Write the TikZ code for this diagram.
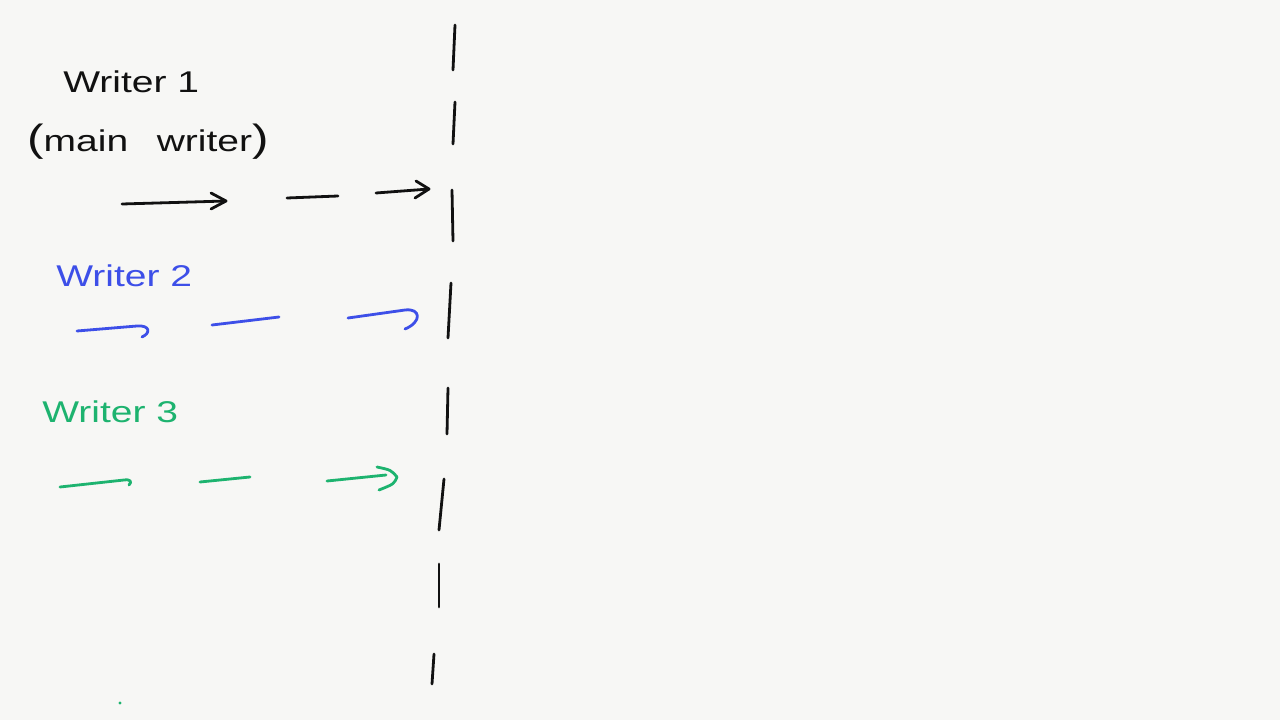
\documentclass[tikz,border=0pt]{standalone}
\usepackage{fontspec}
\setmainfont{Liberation Sans}
\definecolor{paper}{HTML}{F7F7F5}
\definecolor{ink}{HTML}{111111}
\definecolor{inkblue}{HTML}{3D4FE8}
\definecolor{inkgreen}{HTML}{1DB36F}
\tikzset{
  pen/.style={line width=2.8pt, line cap=round, line join=round},
  hand/.style={font=\fontsize{30}{36}\selectfont, inner sep=0pt, anchor=west, xscale=1.3, transform shape},
}
\newcommand{\bigparen}[1]{{\fontsize{38}{38}\selectfont #1}}
\begin{document}
\begin{tikzpicture}[x=1pt,y=-1pt]
\fill[paper] (0,0) rectangle (1280,720);
\useasboundingbox (0,0) rectangle (1280,720);

% labels
\node[hand,text=ink] (w1) at (63,82) {Writer 1};
\node[hand,text=ink] (w1b) at (27,142) {\bigparen{(}main\hspace{22pt}writer\bigparen{)}};
\node[hand,text=inkblue] (w2) at (56,276) {Writer 2};
\node[hand,text=inkgreen] (w3) at (42,412) {Writer 3};

% barrier (dashed vertical line)
\coordinate (b1t) at (455,25);  \coordinate (b1b) at (453,70);
\coordinate (b2t) at (455,102); \coordinate (b2b) at (453,144);
\coordinate (b3t) at (452,190); \coordinate (b3b) at (453,241);
\coordinate (b4t) at (451,283); \coordinate (b4b) at (448,338);
\coordinate (b5t) at (448,388); \coordinate (b5b) at (447,434);
\coordinate (b6t) at (444,479); \coordinate (b6b) at (439,530);
\coordinate (b7t) at (439,564); \coordinate (b7b) at (439,607);
\coordinate (b8t) at (434,654); \coordinate (b8b) at (432,684);
\foreach \i in {1,...,8} \draw[pen,ink] (b\i t) -- (b\i b);

% writer 1 arrows (black)
\coordinate (k1s) at (122,204); \coordinate (k1e) at (226,201);
\coordinate (k1u) at (211,193); \coordinate (k1d) at (211,209);
\draw[pen,ink] (k1s) -- (k1e);
\draw[pen,ink] (k1u) -- (k1e) -- (k1d);
\coordinate (k2s) at (287,198); \coordinate (k2e) at (338,196);
\draw[pen,ink] (k2s) -- (k2e);
\coordinate (k3s) at (376,193); \coordinate (k3e) at (429,189);
\coordinate (k3u) at (416,181); \coordinate (k3d) at (415,198);
\draw[pen,ink] (k3s) -- (k3e);
\draw[pen,ink] (k3u) -- (k3e) -- (k3d);

% writer 2 arrows (blue)
\coordinate (u1s) at (77,331); \coordinate (u1e) at (137,326); \coordinate (u1h) at (142,337);
\draw[pen,inkblue] (u1s) -- (u1e) .. controls (150,325) and (151,333) .. (u1h);
\coordinate (u2s) at (212,325); \coordinate (u2e) at (279,317);
\draw[pen,inkblue] (u2s) -- (u2e);
\coordinate (u3s) at (348,318); \coordinate (u3e) at (405,310); \coordinate (u3h) at (405,329);
\draw[pen,inkblue] (u3s) -- (u3e) .. controls (421,308) and (422,322) .. (u3h);

% writer 3 arrows (green)
\coordinate (g1s) at (60,487); \coordinate (g1e) at (124,480); \coordinate (g1h) at (129,485);
\draw[pen,inkgreen] (g1s) -- (g1e) .. controls (131,479) and (132,482) .. (g1h);
\coordinate (g2s) at (200,482); \coordinate (g2e) at (250,477);
\draw[pen,inkgreen] (g2s) -- (g2e);
\coordinate (g3s) at (327,481); \coordinate (g3e) at (386,475);
\coordinate (g3u) at (377,467); \coordinate (g3t) at (397,477); \coordinate (g3d) at (379,490);
\draw[pen,inkgreen] (g3s) -- (g3e);
\draw[pen,inkgreen] (g3u) .. controls (391,470) .. (g3t) .. controls (394,484) .. (g3d);

% stray dot
\fill[inkgreen] (120,703) circle (1.6);
\end{tikzpicture}
\end{document}
